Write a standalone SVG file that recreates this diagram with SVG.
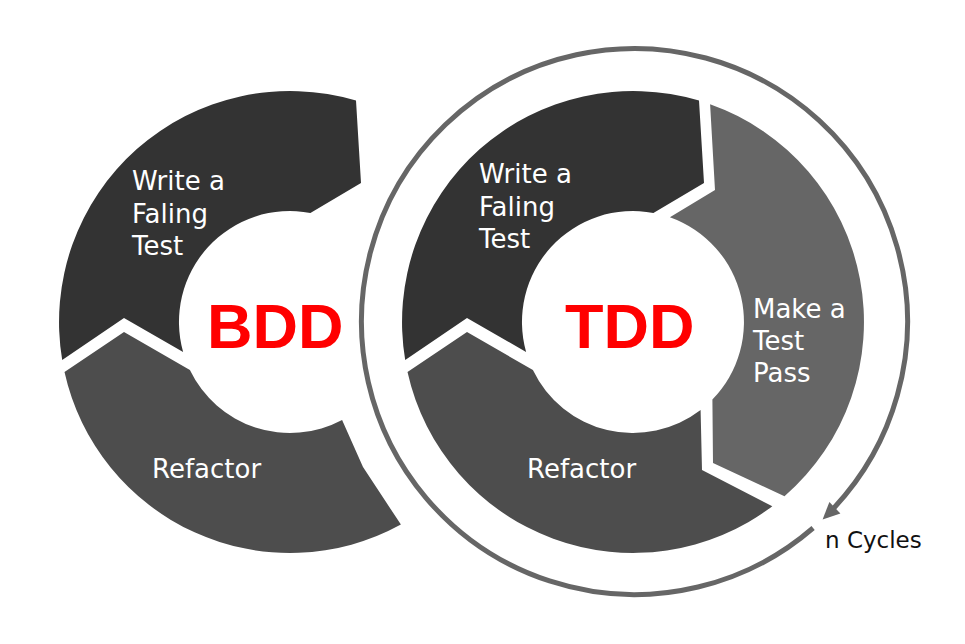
<svg xmlns="http://www.w3.org/2000/svg" width="965" height="644" viewBox="0 0 965 644">
  <style>
    .dark { fill: #333333; }
    .mid { fill: #4d4d4d; }
    .light { fill: #666666; }
    .lbl { font-family: "DejaVu Sans", "Noto Sans", sans-serif; font-size: 26px; fill: #ffffff; }
    .big { font-family: "Liberation Sans", Arial, sans-serif; font-size: 63px; font-weight: bold; fill: #ff0000; }
    .cyc { font-family: "DejaVu Sans", "Noto Sans", sans-serif; font-size: 23px; fill: #111111; }
    .ring { fill: none; stroke: #666666; stroke-width: 5; }
  </style>
  <rect width="965" height="644" fill="#ffffff"/>

  <g id="bdd">
    <g id="bdd-write" transform="translate(290,322)">
      <path class="dark" d="M -227.8 38.1 A 231 231 0 0 1 66.0 -221.4 L 71 -139 L 20.4 -109.1 A 111 111 0 0 0 -106.9 30.0 L -166 -4 Z"/>
    </g>
    <g id="bdd-write-label">
      <text class="lbl" x="132" y="190">Write a</text>
      <text class="lbl" x="132" y="223">Faling</text>
      <text class="lbl" x="132" y="255">Test</text>
    </g>
    <g id="bdd-refactor">
      <path class="mid" transform="translate(290,322)" d="M -225.5 50.0 L -166 10 L -100.1 48.0 A 111 111 0 0 0 52.1 98.0 L 73 145 L 110.9 202.6 A 231 231 0 0 1 -225.5 50.0 Z"/>
      <text class="lbl" x="152" y="478">Refactor</text>
    </g>
    <g id="bdd-title">
      <text class="big" x="207" y="348">BDD</text>
    </g>
  </g>

  <g id="tdd">
    <g id="tdd-write">
      <path class="dark" transform="translate(633,322)" d="M -227.8 38.1 A 231 231 0 0 1 66.0 -221.4 L 71 -139 L 20.4 -109.1 A 111 111 0 0 0 -106.9 30.0 L -166 -4 Z"/>
      <text class="lbl" x="479" y="183">Write a</text>
      <text class="lbl" x="479" y="216">Faling</text>
      <text class="lbl" x="479" y="248">Test</text>
    </g>
    <g id="tdd-make">
      <path class="light" transform="translate(633,322)" d="M 77.1 -217.8 L 82 -132 L 36.9 -104.7 A 111 111 0 0 1 79.4 77.5 L 80 141 L 151.5 174.3 A 231 231 0 0 0 77.1 -217.8 Z"/>
      <text class="lbl" x="753" y="318">Make a</text>
      <text class="lbl" x="753" y="350">Test</text>
      <text class="lbl" x="753" y="382">Pass</text>
    </g>
    <g id="tdd-refactor">
      <path class="mid" transform="translate(633,322)" d="M -225.5 50.0 L -166 10 L -100.1 48.0 A 111 111 0 0 0 67.6 88.1 L 69 148 L 139.3 184.2 A 231 231 0 0 1 -225.5 50.0 Z"/>
      <text class="lbl" x="527" y="478">Refactor</text>
    </g>
    <g id="tdd-title">
      <text class="big" x="565" y="348">TDD</text>
    </g>
  </g>

  <g id="connectors">
    <path class="ring" d="M 813.1 528.0 A 273 273 0 1 1 833.7 508.2"/>
    <polygon fill="#666666" points="822.6,519.4 840.4,513.5 829.4,501.9"/>
  </g>
  <g id="cycles-label">
    <text class="cyc" x="825" y="548">n Cycles</text>
  </g>
</svg>
